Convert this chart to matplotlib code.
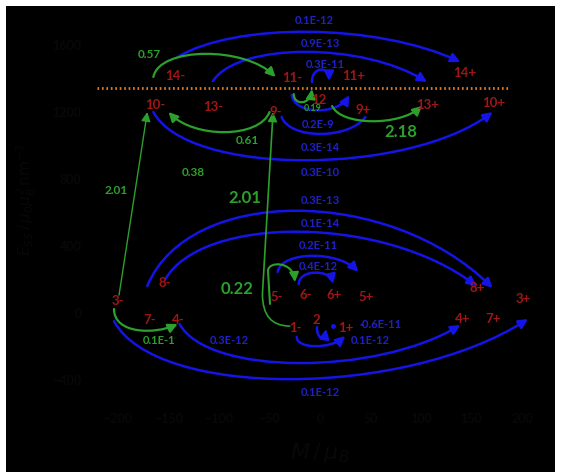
import matplotlib
matplotlib.use("Agg")
import matplotlib.pyplot as plt
from matplotlib.path import Path
from matplotlib.patches import FancyArrowPatch, Rectangle

plt.rcParams['font.family'] = ['Lato', 'DejaVu Sans']

# spin states: label, magnetisation M (mu_B) and energy E
state_names = ["14-", "11-", "11+", "14+", "10-", "13-", "9-", "12", "9+", "13+", "10+",
               "8-", "3-", "7-", "4-", "5-", "6-", "6+", "5+", "1-", "2", "1+",
               "8+", "3+", "4+", "7+"]
state_m = [-143, -27, 33, 143, -163, -106, -44, -1, 43, 107, 172,
           -154, -200, -169, -140, -43, -14, 14, 46, -24, -4, 26,
           156, 201, 141, 171]
state_e = [1415, 1403, 1415, 1433, 1242, 1230, 1200, 1272, 1212, 1242, 1254,
           179, 72, -42, -42, 96, 107, 107, 96, -90, -42, -90,
           149, 84, -36, -36]

# barrier level
barrier_e = 1337
barrier_m = [-221, 187]

# tunnelling arcs (blue): start, end, extreme energy, arrowhead
blue_m0 = [-141, -106, -8, -28, -38, -165, -171, -153, -42, -21, -23, -3, -139, -204]
blue_e0 = [1522, 1379, 1373, 1295, 1164, 1194, 155, 197, 239, 167, -149, -90, -72, -54]
blue_m1 = [139, 106, 9, 29, 45, 171, 171, 155, 38, 13, 25, 6, 139, 206]
blue_e1 = [1493, 1373, 1379, 1295, 1164, 1194, 143, 155, 239, 167, -143, -101, -78, -42]
blue_peak = [1672, 1552, 1445, 1206, 1063, 907, 603, 478, 334, 233, -203, -149, -304, -400]
blue_head = [True, True, True, True, False, True, True, True, True, True, True, True, True, True]
blue_skew0 = [0.2, 0.12, 0.0, 0.05, 0.1, 0.1, 0.12, 0.12, 0.05, 0.0, 0.0, 0.0, 0.1, 0.1]
blue_skew1 = [0.3, 0.3, 0.0, 0.2, 0.2, 0.25, 0.3, 0.3, 0.25, 0.1, 0.3, 0.2, 0.3, 0.3]

# thermal arcs (green)
green_m0 = [-165, -50, -26, 12, -204]
green_e0 = [1403, 1194, 1301, 1230, 18]
green_m1 = [-44, -150, -8, 101, -141]
green_e1 = [1403, 1194, 1331, 1230, -72]
green_peak = [1540, 1075, 1254, 1140, -107]
green_skew0 = [0.05, 0.1, 0.0, 0.1, 0.0]
green_skew1 = [0.25, 0.25, 0.1, 0.25, 0.35]

# rate labels
blue_rates = ["0.1E-12", "0.9E-13", "0.3E-11", "0.2E-9", "0.3E-14", "0.3E-10", "0.3E-13",
              "0.1E-14", "0.2E-11", "0.4E-12", "\u00b70.6E-11", "0.1E-12", "0.3E-12", "0.1E-12"]
blue_rate_m = [-6, 0, 5, -2, 0, 0, 0, 0, -2, -2, 60, 50, -90, 0]
blue_rate_e = [1749, 1606, 1481, 1128, 991, 836, 669, 537, 400, 275, -66, -167, -167, -472]

green_rates = ["0.57", "0.61", "0.38", "2.01", "0.1E-1", "0.19", "2.01", "2.18", "0.22"]
green_rate_m = [-169, -72, -125, -202, -159, -7, -74, 80, -82]
green_rate_e = [1546, 1027, 836, 734, -167, 1218, 687, 1081, 143]
green_rate_size = [8.5, 8.5, 8.5, 8.5, 8, 6.5, 12, 12, 12]

BLUE = '#1414e6'
BLUE_TXT = '#2020c8'
GREEN = '#2ca02c'
RED = '#a01616'
DARK = '#080808'
HEAD = '-|>,head_length=0.5,head_width=0.25'


def arc(m0, e0, m1, e1, peak, s0, s1):
    yc = (peak - (e0 + e1) / 8) / 0.75
    dx = m1 - m0
    verts = [(m0, e0), (m0 + s0 * dx, yc), (m1 - s1 * dx, yc), (m1, e1)]
    return Path(verts, [Path.MOVETO, Path.CURVE4, Path.CURVE4, Path.CURVE4])


fig = plt.figure(figsize=(5.62, 4.77), dpi=100, facecolor='white')
fig.patches.append(Rectangle((6 / 562, 4 / 477), 549 / 562, 466 / 477,
                             transform=fig.transFigure, facecolor='black',
                             edgecolor='none', zorder=-1))
ax = fig.add_axes([0.1525, 0.1507, 0.8338, 0.8252])
ax.set_facecolor('black')
ax.set_xlim(-232, 232)
ax.set_ylim(-550, 1800)
for s in ax.spines.values():
    s.set_visible(False)
ax.set_xticks(range(-200, 201, 50))
ax.set_yticks(range(-400, 1601, 400))
ax.tick_params(axis='both', length=0, colors=DARK, labelsize=9)
ax.tick_params(axis='x', pad=6)
ax.tick_params(axis='y', pad=3)
for lab in ax.get_xticklabels() + ax.get_yticklabels():
    lab.set_fontweight('bold')

ax.plot(barrier_m, [barrier_e, barrier_e], color='#e07b28', lw=2, ls=(0, (0.6, 1.0)))

for i in range(len(blue_m0)):
    p = arc(blue_m0[i], blue_e0[i], blue_m1[i], blue_e1[i], blue_peak[i],
            blue_skew0[i], blue_skew1[i])
    ax.add_patch(FancyArrowPatch(path=p, arrowstyle=HEAD if blue_head[i] else '-',
                                 mutation_scale=11, color=BLUE, lw=1.8))

for i in range(len(green_m0)):
    p = arc(green_m0[i], green_e0[i], green_m1[i], green_e1[i], green_peak[i],
            green_skew0[i], green_skew1[i])
    ax.add_patch(FancyArrowPatch(path=p, arrowstyle=HEAD, mutation_scale=11,
                                 color=GREEN, lw=1.6))

# excitation 3- -> 10-
ax.add_patch(FancyArrowPatch((-199, 101), (-171, 1194), arrowstyle=HEAD,
                             mutation_scale=11, color=GREEN, lw=1.0,
                             shrinkA=0, shrinkB=0))
# excitation 1- -> 9-
p = Path([(-30, -84), (-57, -84), (-57, 107), (-46.5, 1194)],
         [Path.MOVETO, Path.CURVE3, Path.CURVE3, Path.LINETO])
ax.add_patch(FancyArrowPatch(path=p, arrowstyle=HEAD, mutation_scale=11,
                             color=GREEN, lw=1.2))
# 5- hook
p = Path([(-49.5, 48), (-51.5, 245), (-51.5, 305), (-26.7, 305), (-24.8, 179)],
         [Path.MOVETO, Path.LINETO, Path.CURVE4, Path.CURVE4, Path.CURVE4])
ax.add_patch(FancyArrowPatch(path=p, arrowstyle=HEAD, mutation_scale=11,
                             color=GREEN, lw=1.5))

ax.plot([13], [-84], 'o', ms=2.5, color=BLUE)

for name, m, e in zip(state_names, state_m, state_e):
    ax.text(m, e, name, color=RED, fontsize=9.5, fontweight='bold',
            ha='center', va='center')
for t, m, e in zip(blue_rates, blue_rate_m, blue_rate_e):
    ax.text(m, e, t, color=BLUE_TXT, fontsize=8, fontweight='bold',
            ha='center', va='center', clip_on=False)
for t, m, e, fs in zip(green_rates, green_rate_m, green_rate_e, green_rate_size):
    ax.text(m, e, t, color=GREEN, fontsize=fs, fontweight='bold',
            ha='center', va='center')

fig.text(320 / 562, 1 - 453 / 477, r'$M\,/\,\mu_B$', color=DARK, fontsize=16,
         ha='center', va='center')
fig.text(26 / 562, 1 - 200 / 477, r'$E_{SS}\,/\,\mu_0\mu_B^2\,\mathrm{nm}^{-3}$',
         color=DARK, fontsize=11, rotation=90, ha='center', va='center')

fig.savefig('out.png', dpi=100, facecolor='white')
